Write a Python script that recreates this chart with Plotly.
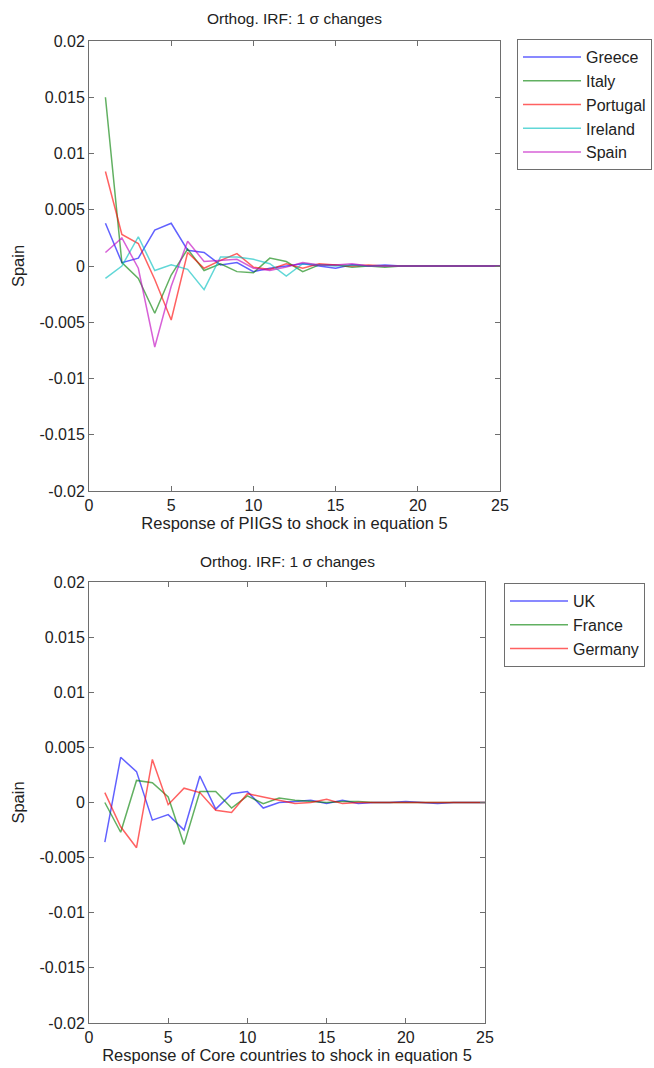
import plotly.graph_objects as go

# Horizon (periods after the shock)
periods = list(range(1, 26))

# Orthogonalised impulse responses of Spain, shock in equation 5
greece = [0.0038, 0.0003, 0.0007, 0.0032, 0.0038, 0.0014, 0.0012, 0.0001, 0.0003, -0.0005,
          -0.0002, 0.0000, 0.0002, 0.0000, -0.0002, 0.0001, 0.0000, 0.0001, 0.0000, 0.0000,
          0.0000, 0.0000, 0.0000, 0.0000, 0.0000]
italy = [0.0150, 0.0003, -0.0011, -0.0042, -0.0008, 0.0015, -0.0004, 0.0002, -0.0005, -0.0006,
         0.0007, 0.0004, -0.0005, 0.0001, 0.0001, -0.0001, 0.0000, -0.0001, 0.0000, 0.0000,
         0.0000, 0.0000, 0.0000, 0.0000, 0.0000]
portugal = [0.0084, 0.0028, 0.0020, -0.0012, -0.0048, 0.0012, -0.0002, 0.0005, 0.0011, -0.0001,
            -0.0003, 0.0002, -0.0002, 0.0002, 0.0001, 0.0000, 0.0001, 0.0000, 0.0000, 0.0000,
            0.0000, 0.0000, 0.0000, 0.0000, 0.0000]
ireland = [-0.0011, 0.0000, 0.0026, -0.0004, 0.0001, -0.0003, -0.0021, 0.0008, 0.0008, 0.0006,
           0.0002, -0.0009, 0.0002, 0.0001, 0.0000, 0.0001, 0.0000, 0.0000, 0.0000, 0.0000,
           0.0000, 0.0000, 0.0000, 0.0000, 0.0000]
spain = [0.0012, 0.0025, -0.0002, -0.0072, -0.0018, 0.0022, 0.0004, 0.0005, 0.0006, -0.0002,
         -0.0004, -0.0001, 0.0003, 0.0001, 0.0001, 0.0002, 0.0000, 0.0000, 0.0000, 0.0000,
         0.0000, 0.0000, 0.0000, 0.0000, 0.0000]

uk = [-0.0036, 0.0041, 0.0028, -0.0016, -0.0011, -0.0025, 0.0024, -0.0006, 0.0008, 0.0010,
      -0.0005, 0.0000, 0.0001, 0.0002, -0.0001, 0.0002, -0.0001, 0.0000, 0.0000, 0.0001,
      0.0000, -0.0001, 0.0000, 0.0000, 0.0000]
france = [0.0000, -0.0027, 0.0020, 0.0018, 0.0005, -0.0038, 0.0010, 0.0010, -0.0005, 0.0006,
          -0.0001, 0.0004, 0.0002, 0.0001, 0.0000, 0.0001, 0.0001, 0.0000, 0.0000, 0.0000,
          0.0000, 0.0000, 0.0000, 0.0000, 0.0000]
germany = [0.0009, -0.0022, -0.0041, 0.0039, -0.0002, 0.0013, 0.0009, -0.0007, -0.0009, 0.0008,
           0.0005, 0.0002, -0.0001, 0.0000, 0.0003, -0.0001, 0.0000, 0.0000, 0.0000, 0.0000,
           0.0000, 0.0000, 0.0000, 0.0000, 0.0000]

piigs = [("Greece", greece), ("Italy", italy), ("Portugal", portugal),
         ("Ireland", ireland), ("Spain", spain)]
core = [("UK", uk), ("France", france), ("Germany", germany)]

y_ticks = [0.02, 0.015, 0.01, 0.005, 0, -0.005, -0.01, -0.015, -0.02]
y_ticklabels = ["0.02", "0.015", "0.01", "0.005", "0", "-0.005", "-0.01", "-0.015", "-0.02"]
x_ticks = [0, 5, 10, 15, 20, 25]

colors = {
    "Greece": "rgba(0,0,255,0.62)", "Italy": "rgba(0,128,0,0.62)",
    "Portugal": "rgba(255,0,0,0.62)", "Ireland": "rgba(0,191,191,0.62)",
    "Spain": "rgba(191,0,191,0.62)",
    "UK": "rgba(0,0,255,0.62)", "France": "rgba(0,128,0,0.62)",
    "Germany": "rgba(255,0,0,0.62)",
}

FONT = "Liberation Sans, Arial, sans-serif"
W, H = 654, 1068

fig = go.Figure()

for name, vals in piigs:
    fig.add_trace(go.Scatter(x=periods, y=vals, mode="lines", name=name,
                             line=dict(color=colors[name], width=1.5),
                             xaxis="x", yaxis="y", legend="legend"))
for name, vals in core:
    fig.add_trace(go.Scatter(x=periods, y=vals, mode="lines", name=name,
                             line=dict(color=colors[name], width=1.5),
                             xaxis="x2", yaxis="y2", legend="legend2"))


def px_x(p):
    return p / W


def px_y(p):
    return 1 - p / H


axis_common = dict(
    showline=True, mirror="ticks", linecolor="#6e6e6e", linewidth=1,
    ticks="inside", ticklen=5, tickcolor="#6e6e6e", showgrid=False, zeroline=False,
    automargin=False,
    tickfont=dict(family=FONT, size=16, color="#222"),
)

xaxis_common = dict(axis_common, range=[0, 25], tickvals=x_ticks)
yaxis_common = dict(axis_common, range=[-0.02, 0.02], tickvals=y_ticks,
                    ticktext=y_ticklabels)

label_font = dict(family=FONT, size=16.5, color="#222")
title_font = dict(family=FONT, size=15.5, color="#222")
legend_font = dict(family=FONT, size=16, color="#222")

fig.update_layout(
    width=W, height=H,
    margin=dict(l=0, r=0, t=0, b=0),
    paper_bgcolor="white", plot_bgcolor="white",
    showlegend=True,
    xaxis=dict(xaxis_common, domain=[px_x(89), px_x(500)], anchor="y",
               title=dict(text="Response of PIIGS to shock in equation 5",
                          font=label_font, standoff=0)),
    yaxis=dict(yaxis_common, domain=[px_y(491), px_y(41)], anchor="x",
               title=dict(text="Spain", font=label_font, standoff=10)),
    xaxis2=dict(xaxis_common, domain=[px_x(89), px_x(485)], anchor="y2",
                title=dict(text="Response of Core countries to shock in equation 5",
                           font=label_font, standoff=0)),
    yaxis2=dict(yaxis_common, domain=[px_y(1023), px_y(582)], anchor="x2",
                title=dict(text="Spain", font=label_font, standoff=10)),
    legend=dict(x=px_x(517), y=px_y(39), xanchor="left", yanchor="top",
                bordercolor="#6e6e6e", borderwidth=1, bgcolor="white",
                font=legend_font, itemwidth=58, tracegroupgap=0),
    legend2=dict(x=px_x(504), y=px_y(583), xanchor="left", yanchor="top",
                 bordercolor="#6e6e6e", borderwidth=1, bgcolor="white",
                 font=legend_font, itemwidth=58, tracegroupgap=0),
    annotations=[
        dict(text="Orthog. IRF: 1 σ changes", x=(px_x(89) + px_x(500)) / 2,
             y=px_y(18), xref="paper", yref="paper", showarrow=False,
             xanchor="center", yanchor="middle", font=title_font),
        dict(text="Orthog. IRF: 1 σ changes", x=(px_x(89) + px_x(485)) / 2,
             y=px_y(561), xref="paper", yref="paper", showarrow=False,
             xanchor="center", yanchor="middle", font=title_font),
    ],
)

fig.write_html("out.html")
